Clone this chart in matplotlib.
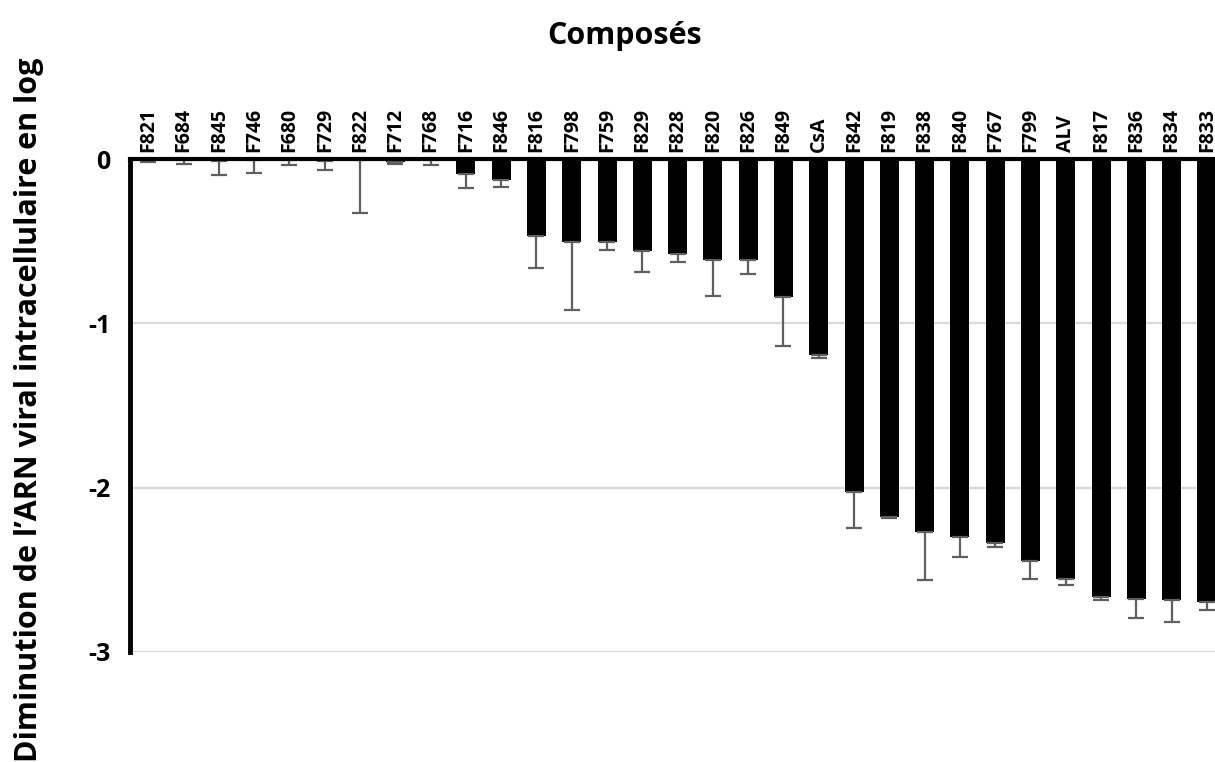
import matplotlib
matplotlib.use('Agg')
import matplotlib.pyplot as plt
import numpy as np

plt.rcParams['font.family'] = ['Open Sans', 'DejaVu Sans']

compounds = ['F821', 'F684', 'F845', 'F746', 'F680', 'F729', 'F822', 'F712', 'F768',
             'F716', 'F846', 'F816', 'F798', 'F759', 'F829', 'F828', 'F820', 'F826',
             'F849', 'CsA', 'F842', 'F819', 'F838', 'F840', 'F767', 'F799', 'ALV',
             'F817', 'F836', 'F834', 'F833']
values = [-0.01, -0.005, -0.01, -0.005, -0.005, -0.01, -0.005, -0.02, -0.005,
          -0.093, -0.128, -0.466, -0.507, -0.507, -0.559, -0.575, -0.616, -0.616,
          -0.841, -1.193, -2.026, -2.176, -2.267, -2.298, -2.338, -2.448, -2.555,
          -2.665, -2.675, -2.683, -2.697]
errors = [0.01, 0.025, 0.09, 0.08, 0.03, 0.057, 0.325, 0.01, 0.03,
          0.085, 0.042, 0.197, 0.411, 0.046, 0.126, 0.049, 0.219, 0.085,
          0.296, 0.017, 0.219, 0.009, 0.298, 0.126, 0.022, 0.109, 0.035,
          0.018, 0.117, 0.132, 0.049]

x = np.arange(len(compounds))
vals = np.array(values)
errs = np.array(errors)

fig = plt.figure(figsize=(12.15, 7.62), dpi=100)
ax = fig.add_axes([0.107, 0.1444, 0.893, 0.6469])

ax.bar(x, vals, width=0.54, color='black', zorder=3)
ax.errorbar(x, vals, yerr=[errs, np.zeros_like(errs)], fmt='none', ecolor='#5f5f5f',
            elinewidth=1.6, capsize=6, capthick=1.6, zorder=4)

ax.set_xlim(-0.52, 30.23)
ax.set_ylim(-3, 0)
ax.set_yticks([0, -1, -2, -3])
ax.set_yticklabels(['0', '-1', '-2', '-3'])
ax.yaxis.grid(True, color='#d9d9d9', lw=1.6, zorder=0)

ax.xaxis.tick_top()
ax.set_xticks(x)
ax.set_xticklabels(compounds, rotation=90, fontsize=14, fontweight='bold')
ax.tick_params(axis='x', length=0, pad=5)
ax.tick_params(axis='y', length=0, pad=14, labelsize=18)
for t in ax.get_yticklabels():
    t.set_fontweight('bold')

for s in ['right', 'bottom']:
    ax.spines[s].set_visible(False)
ax.spines['top'].set_linewidth(3)
ax.spines['left'].set_linewidth(3.5)
ax.spines['top'].set_zorder(5)

fig.text(0.514, 0.953, 'Composés', ha='center', va='center', fontsize=22, fontweight='bold')
fig.text(0.024, 0.462, 'Diminution de l’ARN viral intracellulaire en log', rotation=90,
         ha='center', va='center', fontsize=22, fontweight='bold')

fig.savefig('out.png', dpi=100)
